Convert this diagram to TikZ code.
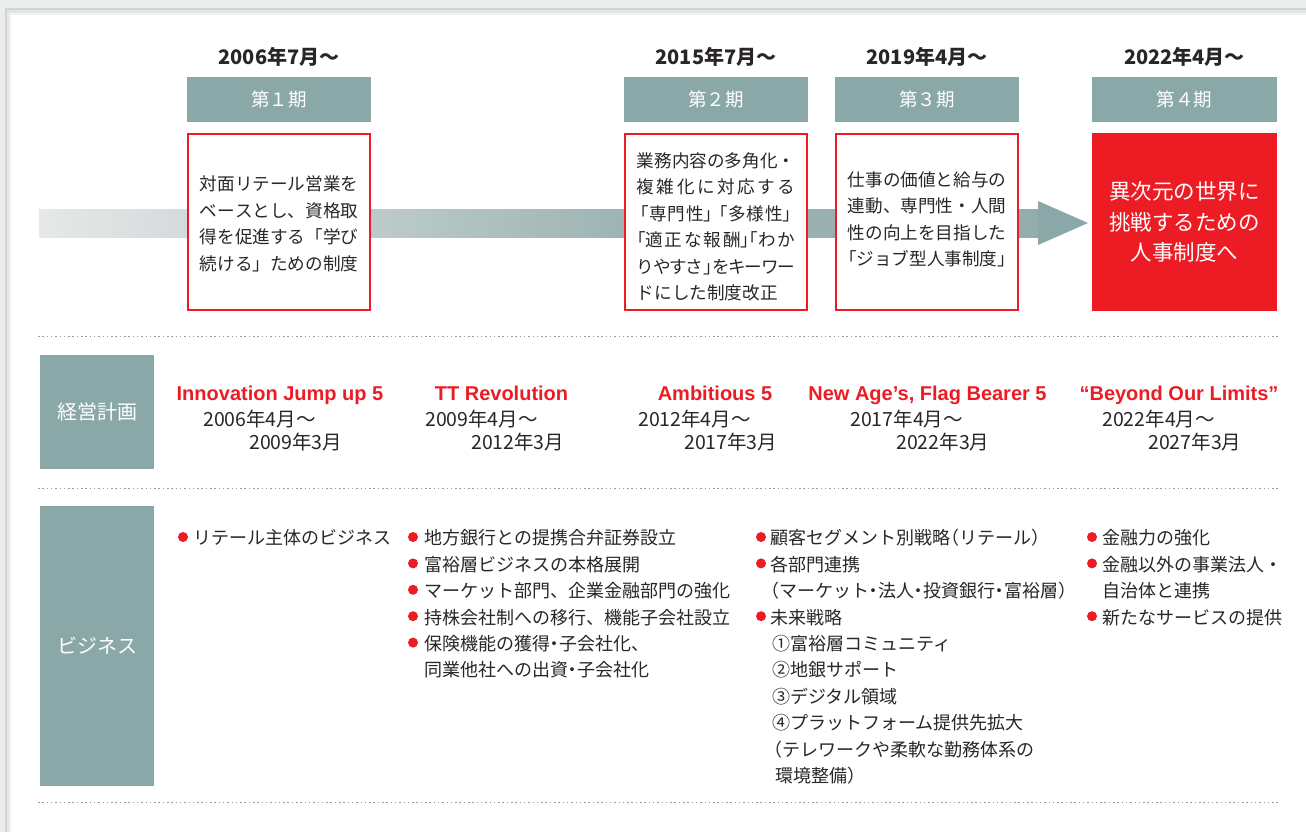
\documentclass[tikz,border=0pt]{standalone}
\usepackage{fontspec}
\setmainfont{Noto Sans CJK JP}
\newfontfamily\latf{Liberation Sans}
\definecolor{teal1}{HTML}{8BA8A9}
\definecolor{red1}{HTML}{ED1C24}
\definecolor{ink}{HTML}{2A2627}
\definecolor{bgc}{HTML}{E9EDED}
\definecolor{dotc}{HTML}{9C9C9C}
\definecolor{arrowL}{HTML}{E6E8E9}
\definecolor{arrowM}{HTML}{9EB4B4}
\definecolor{arrowR}{HTML}{93ADAE}
\newcommand\lk[1]{\makebox[0.5em][r]{#1}}
\newcommand\rk[1]{\makebox[0.5em][l]{#1}}
\newcommand\lkw[1]{\makebox[0.7em][r]{#1}}
\newcommand\rkw[1]{\makebox[0.7em][l]{#1}}
\newcommand\mk[1]{\makebox[0.5em][c]{#1}}
\newcommand\jaon{\XeTeXlinebreaklocale "ja"\XeTeXlinebreakskip=0pt plus 6pt minus 2pt\relax\parindent=0pt\relax}
\tikzset{
  hdr/.style={fill=teal1, text=white, minimum width=184pt, minimum height=45pt, inner sep=0pt, font=\fontsize{18.5}{20}\selectfont},
  hdate/.style={text=ink, inner sep=0pt, anchor=base, font=\bfseries\fontsize{20}{22}\selectfont},
  rbox/.style={draw=red1, line width=1.7pt, fill=white, minimum width=182.3pt, minimum height=176.3pt, inner sep=0pt},
  btxt/.style={text=ink, text width=158.4pt, align=justify, inner sep=0pt, font=\fontsize{17.6}{26.5}\selectfont\jaon},
  fbox/.style={fill=red1, minimum width=185pt, minimum height=178pt, inner sep=0pt},
  ftxt/.style={text=white, align=center, inner sep=0pt, font=\fontsize{21.5}{30.5}\selectfont},
  dotline/.style={dotc, line width=1.7pt, dash pattern=on 1.5pt off 2.8pt},
  lbl/.style={fill=teal1, text=white, minimum width=114pt, inner sep=0pt, font=\fontsize{20}{22}\selectfont},
  ttl/.style={text=red1, inner sep=0pt, anchor=base, font=\latf\bfseries\fontsize{20}{22}\selectfont},
  pd/.style={text=ink, inner sep=0pt, anchor=base west, font=\fontsize{19.5}{22}\selectfont},
  bt/.style={text=ink, inner sep=0pt, anchor=base west, font=\fontsize{18}{20}\selectfont},
  bul/.style={circle, fill=red1, minimum size=10pt, inner sep=0pt}
}
\begin{document}
\begin{tikzpicture}[x=1pt,y=-1pt]
\useasboundingbox (0,0) rectangle (1306,832);
% background panel with shadow
\fill[bgc] (0,0) rectangle (1306,832);
\fill[black!17] (5,8) rectangle (1306,832);
\fill[black!10] (7,10.5) rectangle (1306,832);
\fill[black!5] (9,13) rectangle (1306,832);
\fill[white] (11,15.5) rectangle (1306,832);

% timeline arrow
\shade[left color=arrowL, right color=arrowM] (39,209) rectangle (620.5,237);
\shade[left color=arrowM, right color=arrowR] (620,209) rectangle (1039,237);
\fill[teal1] (1038,201) -- (1088,223) -- (1038,245) -- cycle;

% period headers
\node[hdate] (d1) at (279,64.4) {2006年7月〜};
\node[hdate] (d2) at (716,64.4) {2015年7月〜};
\node[hdate] (d3) at (927,64.4) {2019年4月〜};
\node[hdate] (d4) at (1184.5,64.4) {2022年4月〜};
\node[hdr] (h1) at (279,99.5) {第１期};
\node[hdr] (h2) at (716,99.5) {第２期};
\node[hdr] (h3) at (927,99.5) {第３期};
\node[hdr, minimum width=185pt] (h4) at (1184.5,99.5) {第４期};

% content boxes
\node[rbox] (r1) at (279,222) {};
\node[rbox] (r2) at (716,222) {};
\node[rbox] (r3) at (927,222) {};
\node[fbox] (r4) at (1184.5,222) {};
\node[btxt] (t1) at (279,224) {対面リテール営業を\linebreak ベースとし、資格取\linebreak 得を促進する「学び\linebreak 続ける」ための制度};
\node[btxt] (t2) at (716,227) {業務内容の多角化・\linebreak 複雑化に対応する\linebreak \lkw{「}専門性\rkw{」}\lkw{「}多様性\rkw{」}\linebreak \lk{「}適正な報酬\rk{」}\lk{「}わか\linebreak りやすさ\rk{」}をキーワー\linebreak ドにした制度改正};
\node[btxt] (t3) at (927,219.5) {仕事の価値と給与の\linebreak 連動、専門性・人間\linebreak 性の向上を目指した\linebreak \lk{「}ジョブ型人事制度\rk{」}};
\node[ftxt] (t4) at (1184.5,222) {異次元の世界に\\挑戦するための\\人事制度へ};

% dotted separators
\draw[dotline] (38,336.5) -- (1280,336.5);
\draw[dotline] (38,488.5) -- (1280,488.5);
\draw[dotline] (38,802.5) -- (1280,802.5);

% management plan row
\node[lbl, minimum height=114pt] (l1) at (97,412) {経営計画};
\node[ttl] (p1) at (280,400) {Innovation Jump up 5};
\node[ttl] (p2) at (501.5,400) {TT Revolution};
\node[ttl] (p3) at (715,400) {Ambitious 5};
\node[ttl] (p4) at (927.5,400) {New Age’s, Flag Bearer 5};
\node[ttl] (p5) at (1179,400) {“Beyond Our Limits”};
\node[pd] (p1a) at (203,426) {2006年4月〜};
\node[pd] (p1b) at (249,449) {2009年3月};
\node[pd] (p2a) at (425,426) {2009年4月〜};
\node[pd] (p2b) at (471,449) {2012年3月};
\node[pd] (p3a) at (638,426) {2012年4月〜};
\node[pd] (p3b) at (684,449) {2017年3月};
\node[pd] (p4a) at (850,426) {2017年4月〜};
\node[pd] (p4b) at (896,449) {2022年3月};
\node[pd] (p5a) at (1102,426) {2022年4月〜};
\node[pd] (p5b) at (1148,449) {2027年3月};

% business row
\node[lbl, minimum height=280pt] (l2) at (97,646) {ビジネス};
% column 1
\node[bul] (c1b1) at (183,537) {};
\node[bt] (c1t1) at (193,544.8) {リテール主体のビジネス};
% column 2
\foreach \t [count=\i] in {{地方銀行との提携合弁証券設立},{富裕層ビジネスの本格展開},{マーケット部門、企業金融部門の強化},{持株会社制への移行、機能子会社設立},{保険機能の獲得\mk{・}子会社化、}} {
  \node[bul] (c2b\i) at (413,537+26.4*\i-26.4) {};
  \node[bt] (c2t\i) at (424,544.8+26.4*\i-26.4) {\t};
}
\node[bt] (c2t6) at (424,544.8+26.4*5) {同業他社への出資\mk{・}子会社化};
% column 3
\node[bul] (c3b1) at (761,537) {};
\node[bt] (c3t1) at (770,544.8) {顧客セグメント別戦略\lk{（}リテール\rk{）}};
\node[bul] (c3b2) at (761,537+26.4) {};
\node[bt] (c3t2) at (770,544.8+26.4) {各部門連携};
\node[bt] (c3t3) at (770,544.8+26.4*2) {\lk{（}マーケット\mk{・}法人\mk{・}投資銀行\mk{・}富裕層\rk{）}};
\node[bul] (c3b4) at (761,537+26.4*3) {};
\node[bt] (c3t4) at (770,544.8+26.4*3) {未来戦略};
\node[bt] (c3t5) at (772,544.8+26.4*4) {①富裕層コミュニティ};
\node[bt] (c3t6) at (772,544.8+26.4*5) {②地銀サポート};
\node[bt] (c3t7) at (772,544.8+26.4*6) {③デジタル領域};
\node[bt] (c3t8) at (772,544.8+26.4*7) {④プラットフォーム提供先拡大};
\node[bt] (c3t9) at (773,544.8+26.4*8) {\lk{（}テレワークや柔軟な勤務体系の};
\node[bt] (c3t10) at (775,544.8+26.4*9) {環境整備\rk{）}};
% column 4
\node[bul] (c4b1) at (1092,537) {};
\node[bt] (c4t1) at (1102,544.8) {金融力の強化};
\node[bul] (c4b2) at (1092,537+26.4) {};
\node[bt] (c4t2) at (1102,544.8+26.4) {金融以外の事業法人・};
\node[bt] (c4t3) at (1102,544.8+26.4*2) {自治体と連携};
\node[bul] (c4b4) at (1092,537+26.4*3) {};
\node[bt] (c4t4) at (1102,544.8+26.4*3) {新たなサービスの提供};
\end{tikzpicture}
\end{document}
